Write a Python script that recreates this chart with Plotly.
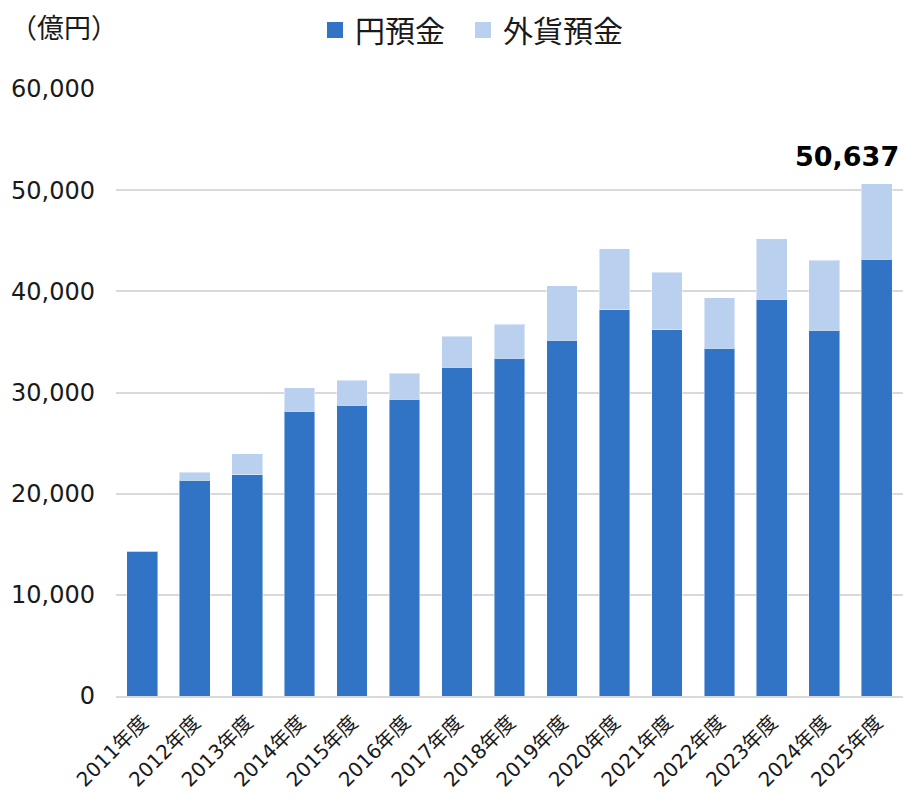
import plotly.graph_objects as go

years = ["2011年度", "2012年度", "2013年度", "2014年度", "2015年度", "2016年度", "2017年度",
         "2018年度", "2019年度", "2020年度", "2021年度", "2022年度", "2023年度", "2024年度", "2025年度"]
yen_deposits = [14300, 21350, 21850, 28150, 28750, 29350, 32500, 33400, 35150, 38200,
                36200, 34350, 39200, 36150, 43150]
fx_deposits = [0, 750, 2100, 2300, 2450, 2550, 3050, 3350, 5400, 6000,
               5700, 5000, 6000, 6900, 7487]
y_ticks = [0, 10000, 20000, 30000, 40000, 50000, 60000]

series_names = ["円預金", "外貨預金"]
colors = ["#3174C6", "#B9D0EE"]
legend_ids = ["legend", "legend2"]

FONT = "DejaVu Sans, Noto Sans CJK JP, sans-serif"
CJK = "Noto Sans CJK JP, sans-serif"

fig = go.Figure()
for name, vals, col in zip(series_names, [yen_deposits, fx_deposits], colors):
    fig.add_trace(go.Bar(
        x=years, y=vals, name=name, marker_color=col,
        marker_line=dict(width=1, color="rgba(255,255,255,0.45)"),
        showlegend=False, legendgroup=name,
    ))
# legend entries (square markers)
for name, col, lg in zip(series_names, colors, legend_ids):
    fig.add_trace(go.Scatter(
        x=[None], y=[None], mode="markers", name=name, legendgroup=name, legend=lg,
        marker=dict(symbol="square", size=16, color=col),
    ))

total_last = yen_deposits[-1] + fx_deposits[-1]
fig.add_annotation(
    x=years[-1], y=total_last, xref="x", yref="y",
    text=f"<b>{total_last:,}</b>", showarrow=False,
    xanchor="right", yanchor="bottom", xshift=24, yshift=10,
    font=dict(family=FONT, size=27, color="#000000"),
)
fig.add_annotation(
    x=-108/787, y=1 + 62/607, xref="paper", yref="paper", xanchor="left", yanchor="middle",
    text="（億円）", showarrow=False,
    font=dict(family=CJK, size=27, color="#1a1a1a"),
)

legend_style = dict(
    orientation="h", xanchor="left",
    y=1 + (89 - 30) / 607, yanchor="middle",
    font=dict(family=CJK, size=30, color="#1a1a1a"),
    itemclick=False, itemdoubleclick=False,
    bgcolor="rgba(0,0,0,0)",
)

fig.update_layout(
    width=903, height=797,
    margin=dict(l=116, r=0, t=89, b=101),
    plot_bgcolor="white", paper_bgcolor="white",
    barmode="stack", bargap=0.415,
    font=dict(family=FONT, color="#1a1a1a"),
    legend=dict(x=(315 - 116) / 787, **legend_style),
    legend2=dict(x=(463 - 116) / 787, **legend_style),
    xaxis=dict(
        tickangle=-45, tickfont=dict(family=FONT, size=20, color="#1a1a1a"),
        showgrid=False, showline=True, linecolor="#D9D9D9", linewidth=1.5,
        ticks="", ticklabelstandoff=5, automargin=False,
    ),
    yaxis=dict(
        range=[0, 60000], tickvals=y_ticks, ticktext=[f"{v:,}" for v in y_ticks],
        tickfont=dict(family=FONT, size=24, color="#1a1a1a"),
        showgrid=True, gridcolor="#D9D9D9", gridwidth=1.5,
        zeroline=False, showline=False, ticks="", ticklabelstandoff=20,
        automargin=False,
    ),
)

fig.write_html("out.html", config={"displayModeBar": False},
               post_script="document.body.style.margin='0';")
